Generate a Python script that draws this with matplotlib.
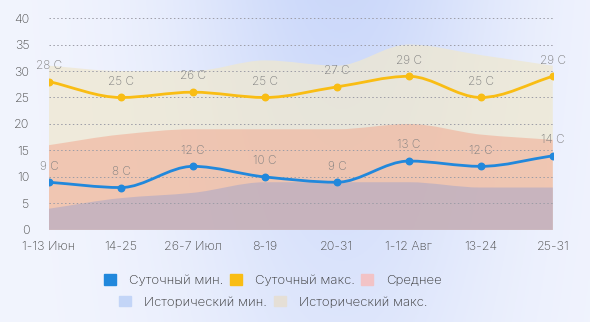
import numpy as np
import matplotlib
matplotlib.use("Agg")
import matplotlib.pyplot as plt
from matplotlib.path import Path
from matplotlib.patches import PathPatch, Patch

plt.rcParams["font.family"] = ["Inter", "DejaVu Sans"]
plt.rcParams["font.weight"] = "light"

periods = ["1-13 Июн", "14-25", "26-7 Июл", "8-19", "20-31", "1-12 Авг", "13-24", "25-31"]
daily_min = [9, 8, 12, 10, 9, 13, 12, 14]
daily_max = [28, 25, 26, 25, 27, 29, 25, 29]
average = [16, 18, 19, 19, 19, 20, 18, 17]
hist_min = [4, 6, 7, 9, 9, 9, 8, 8]
hist_max = [31, 30, 30, 32, 31, 35, 33, 31]

c_min = "#2188dc"
c_max = "#f9bd14"
c_avg = "#f2c3c6"
c_hmin = "#c3d5f7"
c_hmax = "#e5dfd6"


def monotone_path(xs, ys):
    # cubic bezier segments with monotone (Fritsch-Carlson) tangents
    xs = np.asarray(xs, float)
    ys = np.asarray(ys, float)
    h = np.diff(xs)
    d = np.diff(ys) / h
    m = np.zeros_like(ys)
    m[0], m[-1] = d[0], d[-1]
    for i in range(1, len(ys) - 1):
        if d[i - 1] * d[i] <= 0:
            m[i] = 0
        else:
            m[i] = 3 * (h[i - 1] + h[i]) / ((2 * h[i] + h[i - 1]) / d[i - 1] + (h[i] + 2 * h[i - 1]) / d[i])
    verts = [(xs[0], ys[0])]
    codes = [Path.MOVETO]
    for i in range(len(xs) - 1):
        dx = h[i] / 3
        verts += [(xs[i] + dx, ys[i] + m[i] * dx),
                  (xs[i + 1] - dx, ys[i + 1] - m[i + 1] * dx),
                  (xs[i + 1], ys[i + 1])]
        codes += [Path.CURVE4] * 3
    return verts, codes


def area(ax, xs, ys, color, alpha):
    verts, codes = monotone_path(xs, ys)
    verts += [(xs[-1], 0), (xs[0], 0), (xs[0], 0)]
    codes += [Path.LINETO, Path.LINETO, Path.CLOSEPOLY]
    ax.add_patch(PathPatch(Path(verts, codes), facecolor=color, edgecolor="none", alpha=alpha, zorder=1))


def line(ax, xs, ys, color):
    verts, codes = monotone_path(xs, ys)
    ax.add_patch(PathPatch(Path(verts, codes), facecolor="none", edgecolor=color, lw=2, zorder=4))
    ax.scatter(xs, ys, s=22, color=color, zorder=5)
    for x, y in zip(xs, ys):
        ax.annotate(f"{y} C", (x, y), xytext=(0, 7), textcoords="offset points",
                    ha="center", va="bottom", fontsize=8.5, color="#7e7e7e", zorder=6)


fig = plt.figure(figsize=(5.9, 3.22), dpi=100)

# soft blue background
bg = fig.add_axes([0, 0, 1, 1], zorder=-10)
gx = np.linspace(0, 1, 300)
gy = np.linspace(0, 1, 100)
GX, GY = np.meshgrid(gx, gy)
w = np.exp(-((GX - 0.58) / 0.28) ** 2) * (0.55 + 0.45 * GY)
c0 = np.array([0.95, 0.96, 0.995])
c1 = np.array([0.80, 0.85, 0.98])
img = c0[None, None, :] * (1 - w[..., None]) + c1[None, None, :] * w[..., None]
bg.imshow(img, aspect="auto", extent=[0, 1, 0, 1], origin="lower")
bg.axis("off")

ax = fig.add_axes([0.083, 0.286, 0.854, 0.658])
ax.set_facecolor("none")
x = np.arange(len(periods))

area(ax, x, hist_max, "#efe8d0", 0.75)
area(ax, x, average, "#f2a48a", 0.5)
area(ax, x, hist_min, "#a8a6c8", 0.55)

line(ax, x, daily_max, c_max)
line(ax, x, daily_min, c_min)

ax.set_xlim(0, len(periods) - 1)
ax.set_ylim(0, 40)
ax.set_yticks(range(0, 41, 5))
ax.set_xticks(x)
ax.set_xticklabels(periods)
ax.grid(axis="y", linestyle=(0, (1.5, 2.5)), color="#9c9ca6", lw=0.7, zorder=2)
ax.set_axisbelow(False)
for s in ax.spines.values():
    s.set_visible(False)
ax.tick_params(length=0, labelsize=9, colors="#4a4a4a")
ax.tick_params(axis="y", pad=14)
ax.tick_params(axis="x", pad=8)

row1 = [Patch(color=c_min, label="Суточный мин."),
        Patch(color=c_max, label="Суточный макс."),
        Patch(color=c_avg, label="Среднее")]
row2 = [Patch(color=c_hmin, label="Исторический мин."),
        Patch(color=c_hmax, label="Исторический макс.")]
kw = dict(frameon=False, fontsize=9.5, handlelength=0.9, handleheight=0.9,
          handletextpad=1.0, columnspacing=0.5, labelcolor="#333333")
fig.legend(handles=row1, ncol=3, loc="center", bbox_to_anchor=(0.463, 0.128), **kw)
fig.legend(handles=row2, ncol=2, loc="center", bbox_to_anchor=(0.463, 0.062), **kw)

fig.savefig("out.png", dpi=100)
